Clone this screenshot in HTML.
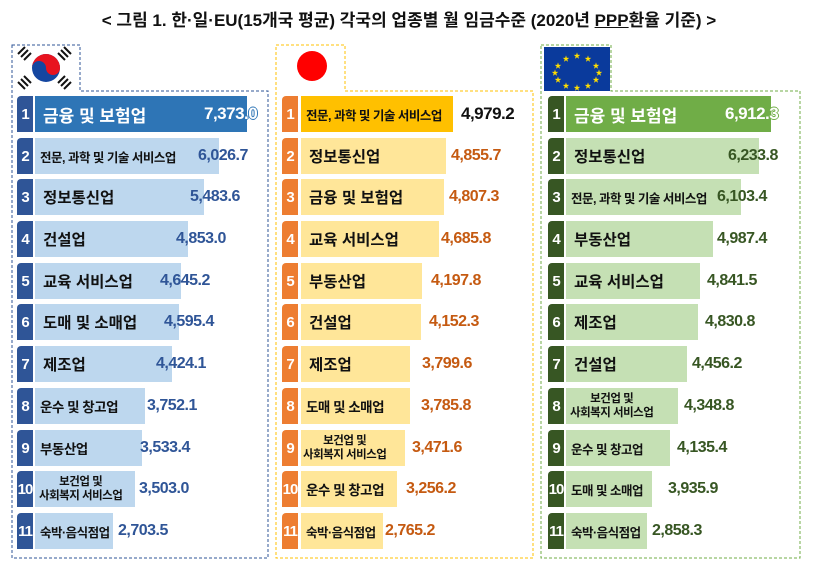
<!DOCTYPE html>
<html><head><meta charset="utf-8"><style>
body{margin:0;width:818px;height:565px;background:#fff;position:relative;overflow:hidden;font-family:"Liberation Sans","Noto Sans CJK KR",sans-serif}
*{box-sizing:border-box}
.a{position:absolute}
.n{position:absolute;width:16px;height:36px;color:#fff;font-weight:bold;font-size:15px;display:flex;align-items:center;justify-content:center;border-radius:4px 0 0 0;letter-spacing:-1px}
.b{position:absolute;height:36px;display:flex;align-items:center;font-weight:bold;color:#111;white-space:nowrap}
.v{position:absolute;height:36px;display:flex;align-items:center;font-weight:bold;font-size:16px;letter-spacing:-0.5px;white-space:nowrap}
.l{font-size:15.5px;padding-left:8px}
.s{font-size:12.5px;padding-left:5px;letter-spacing:-0.5px}
.t{font-size:11.5px;line-height:14px;text-align:center;letter-spacing:-0.5px}
.ob{text-shadow:1px 0 #2E75B6,-1px 0 #2E75B6,0 1px #2E75B6,0 -1px #2E75B6}
.og{text-shadow:1px 0 #70AD47,-1px 0 #70AD47,0 1px #70AD47,0 -1px #70AD47}
</style></head><body>
<div class="a" style="left:0;top:6px;width:818px;text-align:center;font-size:17px;font-weight:bold;color:#111">&lt; 그림 1. 한·일·EU(15개국 평균) 각국의 업종별 월 임금수준 (2020년 <u>PPP</u>환율 기준) &gt;</div>

<svg class="a" style="left:0;top:0" width="818" height="565">
<path d="M12 45 H80 V91 H268 V558 H12 Z" fill="none" stroke="#2F5597" stroke-dasharray="3,2"/>
<path d="M276 45 H345 V91 H533 V558 H276 Z" fill="none" stroke="#FFC000" stroke-dasharray="3,2"/>
<path d="M541 45 H611 V91 H800 V558 H541 Z" fill="none" stroke="#70AD47" stroke-dasharray="3,2"/>
<circle cx="46" cy="68" r="14" fill="#1446A0"/>
<path d="M32 68 A14 14 0 0 1 60 68 A7 7 0 0 1 46 68 A7 7 0 0 0 32 68Z" fill="#E8131F"/>
<g stroke="#111" stroke-width="2">
<path d="M18 54l7-7M21 57l7-7M24 60l7-7"/><path d="M64 47l7 7M61 50l7 7M58 53l7 7"/>
<path d="M18 82l7 7M21 79l7 7M24 76l7 7"/><path d="M64 89l7-7M61 86l7-7M58 83l7-7"/>
</g>
<circle cx="312" cy="66" r="15" fill="#F00"/>
<rect x="544" y="47" width="66" height="44" fill="#0A3A9C"/>
<g fill="#FFDD00" font-size="7" text-anchor="middle">
<text x="577" y="58">★</text><text x="588" y="61">★</text><text x="596" y="68">★</text><text x="599" y="75">★</text><text x="596" y="82">★</text><text x="588" y="88">★</text><text x="577" y="90">★</text><text x="566" y="88">★</text><text x="558" y="82">★</text><text x="555" y="75">★</text><text x="558" y="68">★</text><text x="566" y="61">★</text>
</g>
</svg>

<!-- Korea -->
<div class="n" style="left:17px;top:96px;background:#2F5597">1</div><div class="b l" style="left:35px;top:96px;width:212px;background:#2E75B6;color:#fff;font-size:17px">금융 및 보험업</div><div class="v ob" style="left:204px;top:96px;color:#fff;font-size:17px">7,373.0</div>
<div class="n" style="left:17px;top:138px;background:#2F5597">2</div><div class="b s" style="left:35px;top:138px;width:184px;background:#BDD7EE">전문, 과학 및 기술 서비스업</div><div class="v" style="left:198px;top:138px;color:#2F5597">6,026.7</div>
<div class="n" style="left:17px;top:179px;background:#2F5597">3</div><div class="b l" style="left:35px;top:179px;width:169px;background:#BDD7EE">정보통신업</div><div class="v" style="left:190px;top:179px;color:#2F5597">5,483.6</div>
<div class="n" style="left:17px;top:221px;background:#2F5597">4</div><div class="b l" style="left:35px;top:221px;width:153px;background:#BDD7EE">건설업</div><div class="v" style="left:176px;top:221px;color:#2F5597">4,853.0</div>
<div class="n" style="left:17px;top:263px;background:#2F5597">5</div><div class="b l" style="left:35px;top:263px;width:146px;background:#BDD7EE">교육 서비스업</div><div class="v" style="left:160px;top:263px;color:#2F5597">4,645.2</div>
<div class="n" style="left:17px;top:304px;background:#2F5597">6</div><div class="b l" style="left:35px;top:304px;width:144px;background:#BDD7EE">도매 및 소매업</div><div class="v" style="left:164px;top:304px;color:#2F5597">4,595.4</div>
<div class="n" style="left:17px;top:346px;background:#2F5597">7</div><div class="b l" style="left:35px;top:346px;width:137px;background:#BDD7EE">제조업</div><div class="v" style="left:156px;top:346px;color:#2F5597">4,424.1</div>
<div class="n" style="left:17px;top:388px;background:#2F5597">8</div><div class="b s" style="left:35px;top:388px;width:110px;background:#BDD7EE;font-size:13.5px">운수 및 창고업</div><div class="v" style="left:147px;top:388px;color:#2F5597">3,752.1</div>
<div class="n" style="left:17px;top:430px;background:#2F5597">9</div><div class="b s" style="left:35px;top:430px;width:107px;background:#BDD7EE;font-size:13.5px">부동산업</div><div class="v" style="left:140px;top:430px;color:#2F5597">3,533.4</div>
<div class="n" style="left:17px;top:471px;background:#2F5597">10</div><div class="b t" style="left:35px;top:471px;width:100px;background:#BDD7EE;padding-left:4px">보건업 및<br>사회복지 서비스업</div><div class="v" style="left:139px;top:471px;color:#2F5597">3,503.0</div>
<div class="n" style="left:17px;top:513px;background:#2F5597">11</div><div class="b s" style="left:35px;top:513px;width:78px;background:#BDD7EE">숙박·음식점업</div><div class="v" style="left:118px;top:513px;color:#2F5597">2,703.5</div>

<!-- Japan -->
<div class="n" style="left:282px;top:96px;background:#ED7D31">1</div><div class="b s" style="left:301px;top:96px;width:152px;background:#FFC000">전문, 과학 및 기술 서비스업</div><div class="v" style="left:461px;top:96px;color:#111;font-size:17px">4,979.2</div>
<div class="n" style="left:282px;top:138px;background:#ED7D31">2</div><div class="b l" style="left:301px;top:138px;width:145px;background:#FFE699">정보통신업</div><div class="v" style="left:451px;top:138px;color:#C55A11">4,855.7</div>
<div class="n" style="left:282px;top:179px;background:#ED7D31">3</div><div class="b l" style="left:301px;top:179px;width:143px;background:#FFE699">금융 및 보험업</div><div class="v" style="left:449px;top:179px;color:#C55A11">4,807.3</div>
<div class="n" style="left:282px;top:221px;background:#ED7D31">4</div><div class="b l" style="left:301px;top:221px;width:138px;background:#FFE699">교육 서비스업</div><div class="v" style="left:441px;top:221px;color:#C55A11">4,685.8</div>
<div class="n" style="left:282px;top:263px;background:#ED7D31">5</div><div class="b l" style="left:301px;top:263px;width:121px;background:#FFE699">부동산업</div><div class="v" style="left:431px;top:263px;color:#C55A11">4,197.8</div>
<div class="n" style="left:282px;top:304px;background:#ED7D31">6</div><div class="b l" style="left:301px;top:304px;width:120px;background:#FFE699">건설업</div><div class="v" style="left:429px;top:304px;color:#C55A11">4,152.3</div>
<div class="n" style="left:282px;top:346px;background:#ED7D31">7</div><div class="b l" style="left:301px;top:346px;width:109px;background:#FFE699">제조업</div><div class="v" style="left:422px;top:346px;color:#C55A11">3,799.6</div>
<div class="n" style="left:282px;top:388px;background:#ED7D31">8</div><div class="b s" style="left:301px;top:388px;width:109px;background:#FFE699;font-size:13.5px">도매 및 소매업</div><div class="v" style="left:421px;top:388px;color:#C55A11">3,785.8</div>
<div class="n" style="left:282px;top:430px;background:#ED7D31">9</div><div class="b t" style="left:301px;top:430px;width:104px;background:#FFE699;padding-left:2px">보건업 및<br>사회복지 서비스업</div><div class="v" style="left:412px;top:430px;color:#C55A11">3,471.6</div>
<div class="n" style="left:282px;top:471px;background:#ED7D31">10</div><div class="b s" style="left:301px;top:471px;width:96px;background:#FFE699;font-size:13.5px">운수 및 창고업</div><div class="v" style="left:406px;top:471px;color:#C55A11">3,256.2</div>
<div class="n" style="left:282px;top:513px;background:#ED7D31">11</div><div class="b s" style="left:301px;top:513px;width:82px;background:#FFE699">숙박·음식점업</div><div class="v" style="left:385px;top:513px;color:#C55A11">2,765.2</div>

<!-- EU -->
<div class="n" style="left:548px;top:96px;background:#375623">1</div><div class="b l" style="left:566px;top:96px;width:205px;background:#70AD47;color:#fff;font-size:17px">금융 및 보험업</div><div class="v og" style="left:725px;top:96px;color:#fff;font-size:17px">6,912.3</div>
<div class="n" style="left:548px;top:138px;background:#375623">2</div><div class="b l" style="left:566px;top:138px;width:193px;background:#C5E0B4">정보통신업</div><div class="v" style="left:728px;top:138px;color:#375623">6,233.8</div>
<div class="n" style="left:548px;top:179px;background:#375623">3</div><div class="b s" style="left:566px;top:179px;width:175px;background:#C5E0B4">전문, 과학 및 기술 서비스업</div><div class="v" style="left:717px;top:179px;color:#375623">6,103.4</div>
<div class="n" style="left:548px;top:221px;background:#375623">4</div><div class="b l" style="left:566px;top:221px;width:147px;background:#C5E0B4">부동산업</div><div class="v" style="left:717px;top:221px;color:#375623">4,987.4</div>
<div class="n" style="left:548px;top:263px;background:#375623">5</div><div class="b l" style="left:566px;top:263px;width:134px;background:#C5E0B4">교육 서비스업</div><div class="v" style="left:707px;top:263px;color:#375623">4,841.5</div>
<div class="n" style="left:548px;top:304px;background:#375623">6</div><div class="b l" style="left:566px;top:304px;width:132px;background:#C5E0B4">제조업</div><div class="v" style="left:705px;top:304px;color:#375623">4,830.8</div>
<div class="n" style="left:548px;top:346px;background:#375623">7</div><div class="b l" style="left:566px;top:346px;width:121px;background:#C5E0B4">건설업</div><div class="v" style="left:692px;top:346px;color:#375623">4,456.2</div>
<div class="n" style="left:548px;top:388px;background:#375623">8</div><div class="b t" style="left:566px;top:388px;width:112px;background:#C5E0B4;padding-left:4px">보건업 및<br>사회복지 서비스업</div><div class="v" style="left:684px;top:388px;color:#375623">4,348.8</div>
<div class="n" style="left:548px;top:430px;background:#375623">9</div><div class="b s" style="left:566px;top:430px;width:104px;background:#C5E0B4">운수 및 창고업</div><div class="v" style="left:677px;top:430px;color:#375623">4,135.4</div>
<div class="n" style="left:548px;top:471px;background:#375623">10</div><div class="b s" style="left:566px;top:471px;width:86px;background:#C5E0B4">도매 및 소매업</div><div class="v" style="left:668px;top:471px;color:#375623">3,935.9</div>
<div class="n" style="left:548px;top:513px;background:#375623">11</div><div class="b s" style="left:566px;top:513px;width:81px;background:#C5E0B4">숙박·음식점업</div><div class="v" style="left:652px;top:513px;color:#375623">2,858.3</div>
</body></html>
